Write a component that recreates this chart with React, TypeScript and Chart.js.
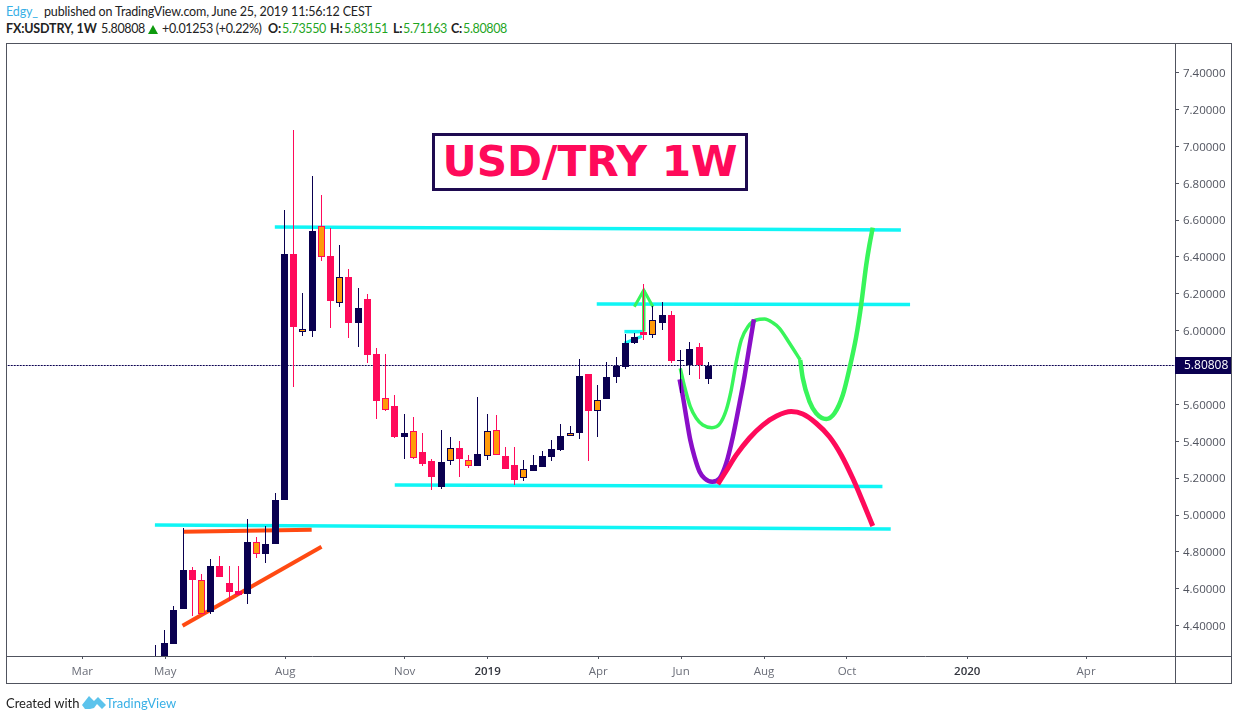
import React, { useEffect, useRef } from "react";
import { Chart, registerables } from "chart.js";

Chart.register(...registerables);

const NAVY = "#0a0050";
const PINK = "#ff0a5a";
const ORANGE = "#ff9a0a";
const CYAN = "#10f5f5";
const GREEN = "#38f55a";
const PURPLE = "#8a0fc8";
const RED_ORANGE = "#ff4a12";
const AXIS = "#50535e";

// Weekly candles, index = week number. N navy, P pink, A orange/navy edge, B orange/pink edge
const opens = [4.15, 4.22, 4.30, 4.49, 4.702, 4.647, 4.474, 4.723, 4.631, 4.588, 4.571, 4.853, 4.788, 4.843, 5.081, 6.416, 5.993, 5.998, 6.568, 6.405, 6.15, 6.291, 6.042, 6.172, 5.874, 5.635, 5.591, 5.423, 5.456, 5.342, 5.293, 5.152, 5.293, 5.364, 5.298, 5.266, 5.32, 5.461, 5.32, 5.271, 5.2, 5.239, 5.26, 5.315, 5.353, 5.429, 5.445, 5.765, 5.564, 5.629, 5.749, 5.803, 5.933, 5.993, 5.977, 6.042, 6.085, 5.836, 5.814, 5.912, 5.7355];
const closes = [4.2, 4.305, 4.484, 4.702, 4.647, 4.463, 4.723, 4.664, 4.582, 4.566, 4.853, 4.788, 4.843, 5.081, 6.416, 6.02, 6.009, 6.541, 6.4, 6.161, 6.291, 6.042, 6.123, 5.868, 5.619, 5.57, 5.423, 5.445, 5.309, 5.277, 5.206, 5.288, 5.364, 5.304, 5.266, 5.331, 5.456, 5.326, 5.25, 5.19, 5.25, 5.271, 5.32, 5.358, 5.429, 5.445, 5.754, 5.564, 5.624, 5.749, 5.808, 5.933, 5.966, 5.977, 6.058, 6.085, 5.836, 5.836, 5.901, 5.814, 5.80808];
const highs = [4.295, 4.376, 4.506, 4.929, 4.716, 4.68, 4.761, 4.778, 4.723, 4.723, 4.978, 4.881, 4.94, 5.119, 6.655, 7.089, 6.205, 6.839, 6.736, 6.557, 6.465, 6.335, 6.232, 6.199, 5.906, 5.874, 5.651, 5.548, 5.532, 5.445, 5.304, 5.461, 5.423, 5.402, 5.326, 5.64, 5.548, 5.543, 5.369, 5.369, 5.298, 5.326, 5.347, 5.407, 5.494, 5.483, 5.846, 5.765, 5.705, 5.83, 5.857, 5.982, 5.988, 6.253, 6.134, 6.156, 6.107, 5.895, 5.939, 5.933, 5.83151];
const lows = [4.1, 4.15, 4.30, 4.49, 4.452, 4.463, 4.463, 4.664, 4.535, 4.566, 4.517, 4.767, 4.74, 4.843, 5.081, 5.696, 5.971, 5.966, 6.378, 6.015, 6.129, 5.96, 5.912, 5.825, 5.521, 5.566, 5.418, 5.304, 5.304, 5.266, 5.136, 5.141, 5.271, 5.206, 5.255, 5.266, 5.298, 5.326, 5.25, 5.163, 5.184, 5.239, 5.26, 5.293, 5.347, 5.429, 5.412, 5.293, 5.423, 5.629, 5.716, 5.792, 5.928, 5.95, 5.96, 6.004, 5.825, 5.662, 5.76, 5.738, 5.71163];
const kinds = "NNNNPBNPPPNBNNNPANBPAPNPPBPNBPPNAPBNABPPANNNNANPANNNNPANPNNPN".split("");

// Trend lines: week index and price
const cyanTopX = [12.96, 80.9];
const cyanTopY = [6.563, 6.546];
const cyanMidX = [47.9, 81.9];
const cyanMidY = [6.145, 6.142];
const cyanLowX = [25.98, 78.9];
const cyanLowY = [5.163, 5.155];
const cyanBaseX = [-0.05, 79.8];
const cyanBaseY = [4.946, 4.924];
const cyanShortX = [50.9, 52.9];
const cyanShortY = [5.995, 5.995];
const cyanDiagX = [50.9, 52.8];
const cyanDiagY = [5.933, 5.97];
const orangeFlatX = [3.0, 16.96];
const orangeFlatY = [4.909, 4.92];
const orangeDiagX = [2.95, 18.03];
const orangeDiagY = [4.399, 4.828];
const arrowX = [53.0, 53.0];
const arrowY = [5.995, 6.22];
const arrowHeadX = [51.98, 53.0, 54.0];
const arrowHeadY = [6.13, 6.22, 6.13];

// Projected paths
const purpleX = [56.89, 57.25, 57.61, 58.05, 58.51, 59.06, 59.6, 60.43, 61.23, 61.95, 62.67, 63.39, 63.93, 64.4, 64.95];
const purpleY = [5.736, 5.642, 5.533, 5.407, 5.316, 5.235, 5.199, 5.181, 5.199, 5.281, 5.425, 5.606, 5.75, 5.895, 6.062];
const greenAX = [56.96, 57.43, 58.05, 58.7, 59.41, 60.39, 61.23, 61.95, 62.49, 63.04, 63.58, 64.3, 65.21, 66.11, 67.01, 67.73, 68.82, 69.98];
const greenAY = [5.796, 5.696, 5.588, 5.525, 5.488, 5.474, 5.494, 5.57, 5.678, 5.832, 5.95, 6.022, 6.058, 6.063, 6.043, 6.013, 5.932, 5.841];
const greenBX = [69.98, 70.26, 70.99, 71.71, 72.8, 73.7, 74.6, 75.33, 76.05, 76.59, 77.14, 77.49, 77.85];
const greenBY = [5.841, 5.742, 5.615, 5.552, 5.521, 5.552, 5.651, 5.796, 5.967, 6.139, 6.356, 6.465, 6.559];
const pinkX = [61.04, 61.95, 63.04, 64.48, 65.92, 67.41, 69.0, 70.26, 71.71, 73.15, 74.43, 75.68, 76.77, 77.85];
const pinkY = [5.168, 5.239, 5.326, 5.418, 5.488, 5.537, 5.561, 5.548, 5.498, 5.425, 5.326, 5.199, 5.072, 4.94];

const lastPrice = 5.80808;
const priceLineX = [-17, 111];

const xTickValues = [-7.93, 1.07, 14.1, 27.05, 36.05, 48.05, 57.05, 66.05, 75.05, 88.1, 101];
const xTickLabels = ["Mar", "May", "Aug", "Nov", "2019", "Apr", "Jun", "Aug", "Oct", "2020", "Apr"];
const yTickValues = [4.4, 4.6, 4.8, 5.0, 5.2, 5.4, 5.6, 5.8, 6.0, 6.2, 6.4, 6.6, 6.8, 7.0, 7.2, 7.4];

const zip = (xs: number[], ys: number[]) => xs.map((x, i) => ({ x, y: ys[i] }));
const FONT = '"Open Sans", sans-serif';
const TEXT_FONT = 'Lato, "Open Sans", sans-serif';

const line = (
  label: string,
  xs: number[],
  ys: number[],
  color: string,
  width: number,
  order: number,
  smooth = false
) => ({
  type: "line" as const,
  label,
  data: zip(xs, ys),
  borderColor: color,
  backgroundColor: color,
  borderWidth: width,
  pointRadius: 0,
  cubicInterpolationMode: smooth ? ("monotone" as const) : ("default" as const),
  tension: 0,
  order,
  borderCapStyle: "butt" as const,
});

const framePlugin = {
  id: "frame",
  beforeDatasetsDraw(chart: any) {
    // keep candle edges and the dotted price line on whole pixels
    chart.data.datasets.forEach((d: any, i: number) => {
      const meta = chart.getDatasetMeta(i);
      if (d.type === "bar") {
        meta.data.forEach((el: any) => {
          el.x = Math.floor(el.x) + 0.5;
          el.y = Math.round(el.y);
          el.base = Math.round(el.base);
        });
      } else if (d.label === "Last price") {
        meta.data.forEach((el: any) => {
          el.y = Math.floor(el.y - 0.5) + 0.5;
        });
      }
    });
  },
  afterDraw(chart: any) {
    const { ctx, scales } = chart;
    ctx.save();
    ctx.strokeStyle = AXIS;
    ctx.lineWidth = 1;
    ctx.strokeRect(6.5, 43.5, 1225, 640);
    ctx.beginPath();
    ctx.moveTo(1175.5, 43);
    ctx.lineTo(1175.5, 684);
    ctx.moveTo(6, 656.5);
    ctx.lineTo(1232, 656.5);
    ctx.stroke();
    const py = Math.round(scales.y.getPixelForValue(lastPrice));
    ctx.fillStyle = NAVY;
    ctx.fillRect(1175, py - 9, 56, 17);
    ctx.fillStyle = "#ffffff";
    ctx.font = `12px ${FONT}`;
    ctx.textBaseline = "middle";
    ctx.textAlign = "left";
    ctx.fillText(lastPrice.toFixed(5), 1184, py);
    ctx.restore();
  },
};

const abs = (left: number, top: number, extra: React.CSSProperties = {}): React.CSSProperties => ({
  position: "absolute",
  left,
  top,
  whiteSpace: "nowrap",
  fontFamily: TEXT_FONT,
  fontSize: 12.5,
  letterSpacing: "-0.15px",
  lineHeight: "16px",
  color: "#222",
  ...extra,
});
const num = { letterSpacing: "-0.35px" };
const foot = { fontSize: 13, letterSpacing: "0px" };

const GREEN_TXT = "#1fa51f";
const BLUE_TXT = "#39b0e6";

export default function App() {
  const ref = useRef<HTMLCanvasElement>(null);
  useEffect(() => {
    const wicks = kinds.map((_, i) => ({ x: i, y: [lows[i], highs[i]] }));
    const bodies = kinds.map((_, i) => ({
      x: i,
      y: [Math.min(opens[i], closes[i]), Math.max(opens[i], closes[i])],
    }));
    const edge = (k: string) => (k === "N" || k === "A" ? NAVY : PINK);
    const chart = new Chart(ref.current as HTMLCanvasElement, {
      type: "bar",
      data: {
        datasets: [
          {
            type: "bar",
            label: "Body",
            data: bodies as any,
            barThickness: 7,
            minBarLength: 1,
            grouped: false,
            backgroundColor: kinds.map((k) => (k === "A" || k === "B" ? ORANGE : edge(k))),
            borderColor: kinds.map(edge),
            borderWidth: kinds.map((k) => (k === "A" || k === "B" ? 1 : 0)),
            borderSkipped: false,
            inflateAmount: 0,
            order: 0,
          },
          {
            type: "bar",
            label: "Wick",
            data: wicks as any,
            barThickness: 1,
            grouped: false,
            backgroundColor: kinds.map(edge),
            borderWidth: 0,
            inflateAmount: 0,
            order: 1,
          },
          line("Pink path", pinkX, pinkY, PINK, 5, 2, true),
          line("Purple path", purpleX, purpleY, PURPLE, 4.5, 3, true),
          line("Green path A", greenAX, greenAY, GREEN, 3.5, 4, true),
          line("Green path B", greenBX, greenBY, GREEN, 4.5, 4, true),
          line("Arrow", arrowX, arrowY, GREEN, 3.5, 5),
          line("Arrow head", arrowHeadX, arrowHeadY, GREEN, 3, 5),
          { ...line("Last price", priceLineX, [lastPrice, lastPrice], NAVY, 1, 6), borderDash: [2, 1] },
          line("Orange flat", orangeFlatX, orangeFlatY, RED_ORANGE, 4, 7),
          line("Orange diagonal", orangeDiagX, orangeDiagY, RED_ORANGE, 4, 7),
          line("Cyan top", cyanTopX, cyanTopY, CYAN, 3.5, 8),
          line("Cyan mid", cyanMidX, cyanMidY, CYAN, 3.5, 8),
          line("Cyan low", cyanLowX, cyanLowY, CYAN, 3.5, 8),
          line("Cyan base", cyanBaseX, cyanBaseY, CYAN, 3.5, 8),
          line("Cyan short", cyanShortX, cyanShortY, CYAN, 3.5, 8),
          line("Cyan diagonal", cyanDiagX, cyanDiagY, CYAN, 3, 8),
        ] as any,
      },
      options: {
        responsive: false,
        animation: false,
        layout: { padding: { left: 6, top: 43, right: 0, bottom: 0 } },
        plugins: { legend: { display: false }, tooltip: { enabled: false } },
        scales: {
          x: {
            type: "linear",
            offset: false,
            min: -16.21,
            max: 110.65,
            afterBuildTicks: (s: any) => {
              s.ticks = xTickValues.map((value) => ({ value }));
            },
            afterFit: (s: any) => {
              s.height = 64;
            },
            border: { display: false },
            grid: { offset: false, drawOnChartArea: false, drawTicks: true, tickLength: 3, color: AXIS },
            ticks: {
              autoSkip: false,
              maxRotation: 0,
              minRotation: 0,
              padding: 6,
              color: (c: any) => (/^20/.test(xTickLabels[c.index] || "") ? "#33363f" : "#6a6d78"),
              font: (c: any) => ({
                family: FONT,
                size: 11.5,
                weight: /^20/.test(xTickLabels[c.index] || "") ? "600" : "400",
              }),
              callback: (_v: any, i: number) => xTickLabels[i],
            },
          },
          y: {
            type: "linear",
            position: "right",
            min: 4.235,
            max: 7.561,
            afterBuildTicks: (s: any) => {
              s.ticks = yTickValues.map((value) => ({ value }));
            },
            afterFit: (s: any) => {
              s.width = 63;
            },
            border: { display: false },
            grid: { drawOnChartArea: false, drawTicks: true, tickLength: 4, color: AXIS },
            ticks: {
              padding: 4,
              labelOffset: 1,
              color: "#50535e",
              font: { family: FONT, size: 11.5 },
              callback: (v: any) => Number(v).toFixed(5),
            },
          },
        },
      },
      plugins: [framePlugin],
    } as any);
    return () => chart.destroy();
  }, []);

  return (
    <div style={{ position: "absolute", left: 0, top: 0, width: 1238, height: 720, background: "#fff", overflow: "hidden" }}>
      <span style={abs(6, 4, { color: BLUE_TXT })}>Edgy_</span>
      <span style={abs(44, 4)}>published on TradingView.com, June 25, 2019 11:56:12 CEST</span>
      <span style={abs(6, 21, { fontWeight: 700 })}>FX:USDTRY, 1W</span>
      <span style={abs(101, 21, num)}>5.80808</span>
      <svg style={{ position: "absolute", left: 148, top: 25 }} width="10" height="9" viewBox="0 0 10 9">
        <polygon points="5,0 10,9 0,9" fill="#0e9a0e" />
      </svg>
      <span style={abs(162, 21, num)}>+0.01253 (+0.22%)</span>
      <span style={abs(268, 21, { fontWeight: 700 })}>O:</span>
      <span style={abs(282, 21, { color: GREEN_TXT, ...num })}>5.73550</span>
      <span style={abs(330, 21, { fontWeight: 700 })}>H:</span>
      <span style={abs(344, 21, { color: GREEN_TXT, ...num })}>5.83151</span>
      <span style={abs(393, 21, { fontWeight: 700 })}>L:</span>
      <span style={abs(403, 21, { color: GREEN_TXT, ...num })}>5.71163</span>
      <span style={abs(451, 21, { fontWeight: 700 })}>C:</span>
      <span style={abs(463, 21, { color: GREEN_TXT, ...num })}>5.80808</span>

      <canvas ref={ref} width={1238} height={720} style={{ position: "absolute", left: 0, top: 0, width: 1238, height: 720 }} />

      <div
        style={{
          position: "absolute",
          left: 432,
          top: 133,
          width: 310,
          height: 52,
          border: "3px solid #1e0a50",
          background: "#fff",
          textAlign: "center",
          fontFamily: '"DejaVu Sans", sans-serif',
          fontWeight: 700,
          fontSize: 42.2,
          lineHeight: "52px",
          color: PINK,
          whiteSpace: "nowrap",
        }}
      >
        USD/TRY 1W
      </div>

      <span style={abs(6, 695, foot)}>Created with</span>
      <svg style={{ position: "absolute", left: 82, top: 695 }} width="24" height="15" viewBox="0 0 24 15">
        <path d="M0 10 L7 1 L12 6 L16 2 L24 10 L20 14 L15 9 L12 13 L8 14 L3 14 Z" fill="#5cc3ec" />
      </svg>
      <span style={abs(106, 695, { color: BLUE_TXT, ...foot })}>TradingView</span>
    </div>
  );
}
